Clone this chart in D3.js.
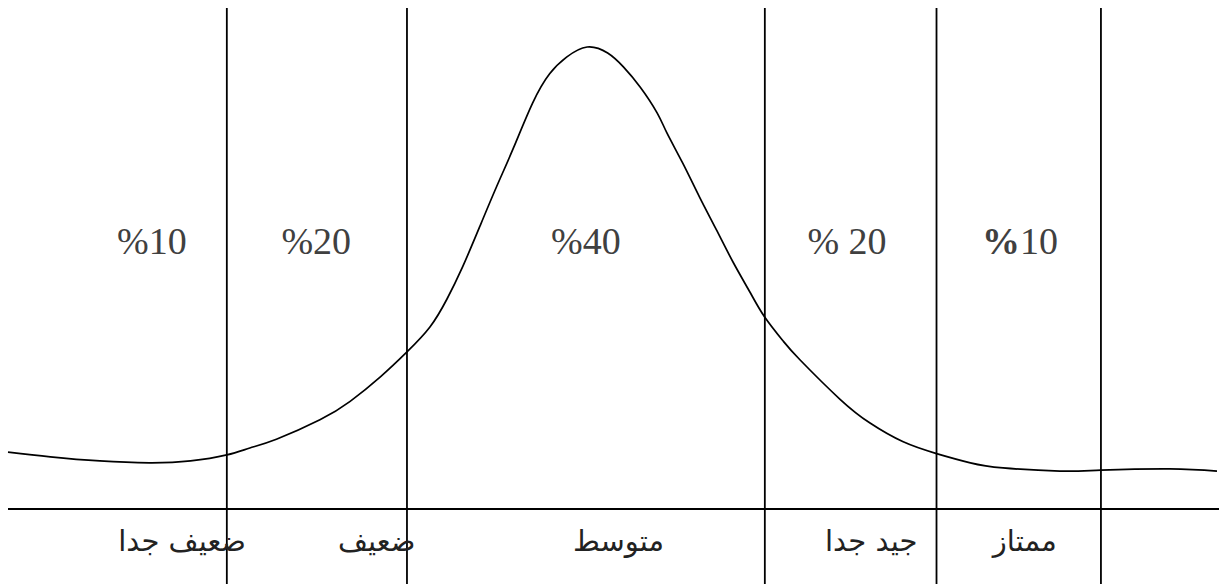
<!DOCTYPE html>
<html>
<head>
<meta charset="utf-8">
<script src="https://cdn.jsdelivr.net/npm/d3@7"></script>
<style>
  html, body { margin: 0; padding: 0; background: #fff; }
  svg { display: block; }
</style>
</head>
<body>
<script>
// grade bands (x in score units 0..100, curve height in units 0..100)
var grades = ["ضعيف جدا", "ضعيف", "متوسط", "جيد جدا", "ممتاز"];
var gradePos = [14.4, 30.5, 50.5, 71.4, 84.1];
var percents = ["10", "20", "40", "20", "10"];
var percentPos = [11.9, 25.5, 47.8, 69.4, 83.7];
var bounds = [18.1, 33.0, 62.6, 76.8, 90.4];

// hand drawn curve
var curveX = [0, 3.5, 7.6, 11.7, 15.1, 18.1, 20.0, 22.2, 25.8, 28.3, 30.8, 33.0, 34.9, 36.3, 37.6, 39.0,
  40.4, 41.8, 43.4, 44.8, 46.2, 47.9, 49.6, 50.9, 52.3, 53.7, 54.5, 55.8, 57.2, 58.6, 60.0, 61.4, 62.6,
  64.1, 65.5, 68.8, 71.3, 74.0, 76.8, 79.6, 82.3, 87.0, 90.4, 96.1, 100];
var curveY = [12.3, 11.3, 10.4, 10.0, 10.4, 11.7, 13.2, 15.1, 19.3, 23.3, 28.6, 34.0, 39.4, 45.4, 52.4, 61.0,
  69.7, 78.1, 87.9, 94.2, 97.8, 100, 98.7, 95.7, 91.3, 85.7, 81.4, 74.9, 67.5, 60.4, 53.3, 46.8, 41.5,
  36.4, 32.3, 23.8, 18.6, 14.6, 12.0, 10.0, 8.9, 8.2, 8.4, 8.7, 8.2];

var w = 1219, h = 584;

var svg = d3.select("body").append("svg").attr("width", w).attr("height", h);

var xScale = d3.scaleLinear().domain([0, 100]).range([8, 1217]);
var yScale = d3.scaleLinear().domain([0, 100]).range([509, 47]);

//baseline
svg.append("line")
  .attr("x1", 8).attr("x2", w)
  .attr("y1", yScale(0)).attr("y2", yScale(0))
  .attr("stroke", "#000").attr("stroke-width", 1.8);

//band dividers
svg.selectAll(".divider")
  .data(bounds)
  .enter()
  .append("line")
  .attr("class", "divider")
  .attr("x1", function(d) { return xScale(d); })
  .attr("x2", function(d) { return xScale(d); })
  .attr("y1", 8).attr("y2", h)
  .attr("stroke", "#000").attr("stroke-width", 1.8);

//the curve
var pts = curveX.map(function(d, i) { return [d, curveY[i]]; });
var line = d3.line()
  .x(function(d) { return xScale(d[0]); })
  .y(function(d) { return yScale(d[1]); })
  .curve(d3.curveNatural);

svg.append("path")
  .datum(pts)
  .attr("d", line)
  .attr("fill", "none")
  .attr("stroke", "#000")
  .attr("stroke-width", 1.7);

//percent labels
var pct = svg.selectAll(".pct")
  .data(percents)
  .enter()
  .append("text")
  .attr("class", "pct")
  .attr("x", function(d, i) { return xScale(percentPos[i]); })
  .attr("y", 254)
  .attr("direction", "ltr")
  .attr("text-anchor", "middle")
  .style("font-family", "'Liberation Serif', serif")
  .style("font-size", "38px")
  .style("fill", "#404040");

pct.append("tspan")
  .style("font-weight", function(d, i) { return i == 4 ? "bold" : "normal"; })
  .text("%");
pct.append("tspan")
  .text(function(d, i) { return (i == 3 ? " " : "") + d; });

//grade names under the axis
svg.selectAll(".grade")
  .data(grades)
  .enter()
  .append("text")
  .attr("class", "grade")
  .attr("x", function(d, i) { return xScale(gradePos[i]); })
  .attr("y", 551)
  .attr("text-anchor", "middle")
  .style("font-family", "'DejaVu Sans', sans-serif")
  .style("font-size", "29px")
  .style("fill", "#222")
  .text(function(d) { return d; });
</script>
</body>
</html>
